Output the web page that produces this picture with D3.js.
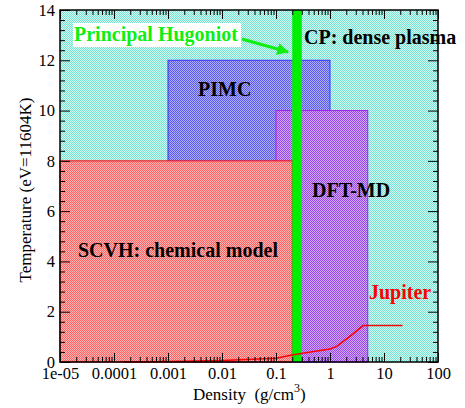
<!DOCTYPE html>
<html><head><meta charset="utf-8">
<script src="https://cdn.jsdelivr.net/npm/d3@7/dist/d3.min.js"></script>
<style>body{margin:0;background:#fff}svg{display:block}text{font-family:"Liberation Serif","Times New Roman",serif}</style>
</head><body>
<script>
// ---- data ----
const xTickValues = [1e-5, 1e-4, 1e-3, 1e-2, 1e-1, 1, 10, 100];
const xTickLabels = ["1e-05", "0.0001", "0.001", "0.01", "0.1", "1", "10", "100"];
const yTickValues = [0, 2, 4, 6, 8, 10, 12, 14];
const regionNames = ["CP: dense plasma", "PIMC", "DFT-MD", "SCVH: chemical model", "Principal Hugoniot"];
const regionX0 = [1e-5, 1e-3, 0.1, 1e-5, 0.2];
const regionX1 = [100, 1.0, 5.0, 0.2, 0.3];
const regionT1 = [14, 12, 10, 8, 14];
const jupiterRho = [1.5e-4, 0.001, 0.01, 0.1, 0.2, 0.5, 1.0, 1.33, 2.5, 4.1, 22];
const jupiterT = [0.0, 0.02, 0.06, 0.15, 0.28, 0.42, 0.52, 0.62, 1.07, 1.45, 1.45];

const FONT = "Liberation Serif";
const W = 465, H = 408;
const svg = d3.select("body").append("svg").attr("width", W).attr("height", H)
  .attr("font-family", FONT);
const x = d3.scaleLog().domain([1e-5, 100]).range([60, 438]);
const y = d3.scaleLinear().domain([0, 14]).range([362, 10]);

const defs = svg.append("defs");
const fills = [["cyan", "#78e2d2", "#d4fbf2"], ["blue", "#5a5aeb", "#aeaefd"],
               ["purple", "#964be8", "#d2a5f8"], ["red", "#ff6464", "#ffb4b4"]];
fills.forEach(([id, a, b]) => {
  const p = defs.append("pattern").attr("id", "pat-" + id).attr("patternUnits", "userSpaceOnUse")
    .attr("width", 2).attr("height", 2);
  p.append("rect").attr("width", 2).attr("height", 2).attr("fill", a);
  p.append("rect").attr("x", 1).attr("y", 0).attr("width", 1).attr("height", 1).attr("fill", b);
  p.append("rect").attr("x", 0).attr("y", 1).attr("width", 1).attr("height", 1).attr("fill", b);
});

const styles = [
  {fill: "url(#pat-cyan)", stroke: "none"},
  {fill: "url(#pat-blue)", stroke: "#3030ff"},
  {fill: "url(#pat-purple)", stroke: "#a020f0"},
  {fill: "url(#pat-red)", stroke: "#ff0000"},
  {fill: "#00ee00", stroke: "none"}
];
// draw order: CP, PIMC, DFT-MD, SCVH, Hugoniot
regionNames.forEach((n, i) => {
  svg.append("rect")
    .attr("x", x(regionX0[i])).attr("y", y(regionT1[i]))
    .attr("width", x(regionX1[i]) - x(regionX0[i]))
    .attr("height", y(0) - y(regionT1[i]))
    .attr("fill", styles[i].fill)
    .attr("stroke", styles[i].stroke).attr("stroke-width", 1);
});

// Jupiter
svg.append("path")
  .datum(jupiterRho.map((r, i) => [r, jupiterT[i]]))
  .attr("d", d3.line().x(d => x(d[0])).y(d => y(d[1])))
  .attr("fill", "none").attr("stroke", "#ff0000").attr("stroke-width", 1.6);

// axes
const minorX = [];
for (let e = -5; e < 2; e++) for (let k = 2; k <= 9; k++) minorX.push(k * Math.pow(10, e));
const minorY = d3.range(0, 14.01, 0.4).filter(v => Math.abs(v / 2 - Math.round(v / 2)) > 1e-6);

function styleAx(g) { g.attr("font-family", FONT); g.select(".domain").remove(); g.selectAll("line").attr("stroke", "#000").attr("stroke-width", 1); }
const fontSize = 16.5;
const lab = g => g.selectAll("text").attr("font-size", fontSize).attr("fill", "#000").attr("font-family", FONT);
svg.append("g").attr("transform", `translate(0,${y(0)})`)
  .call(d3.axisBottom(x).tickValues(xTickValues).tickSize(-9).tickPadding(5).tickFormat((d, i) => xTickLabels[i]))
  .call(styleAx).call(lab);
svg.append("g").attr("transform", `translate(0,${y(0)})`)
  .call(d3.axisBottom(x).tickValues(minorX).tickSize(-5).tickFormat("")).call(styleAx);
svg.append("g").attr("transform", `translate(0,${y(14)})`)
  .call(d3.axisTop(x).tickValues(xTickValues).tickSize(-9).tickFormat("")).call(styleAx);
svg.append("g").attr("transform", `translate(0,${y(14)})`)
  .call(d3.axisTop(x).tickValues(minorX).tickSize(-5).tickFormat("")).call(styleAx);
svg.append("g").attr("transform", `translate(${x(1e-5)},0)`)
  .call(d3.axisLeft(y).tickValues(yTickValues).tickSize(-10).tickPadding(5).tickFormat(d3.format("d")))
  .call(styleAx).call(lab);
svg.append("g").attr("transform", `translate(${x(1e-5)},0)`)
  .call(d3.axisLeft(y).tickValues(minorY).tickSize(-5).tickFormat("")).call(styleAx);
svg.append("g").attr("transform", `translate(${x(100)},0)`)
  .call(d3.axisRight(y).tickValues(yTickValues).tickSize(-10).tickFormat("")).call(styleAx);
svg.append("g").attr("transform", `translate(${x(100)},0)`)
  .call(d3.axisRight(y).tickValues(minorY).tickSize(-5).tickFormat("")).call(styleAx);

svg.append("rect").attr("x", x(1e-5)).attr("y", y(14)).attr("width", x(100) - x(1e-5))
  .attr("height", y(0) - y(14)).attr("fill", "none").attr("stroke", "#000").attr("stroke-width", 1.5);

// axis titles
svg.append("text").attr("transform", `translate(31,${(y(0) + y(14)) / 2 + 4}) rotate(-90)`)
  .attr("font-family", FONT).attr("text-anchor", "middle").attr("font-size", 17).text("Temperature (eV=11604K)");
const xl = svg.append("text").attr("x", 193).attr("y", 400).attr("font-size", 17).attr("font-family", FONT);
xl.append("tspan").text("Density\u00a0\u00a0(g/cm");
xl.append("tspan").attr("dy", -8).attr("font-size", 12).text("3");
xl.append("tspan").attr("dy", 8).text(")");

// labels
const bold = (t, px, py, col) => svg.append("text").attr("x", px).attr("y", py).attr("font-size", 20)
  .attr("font-family", FONT).attr("font-weight", "bold").attr("fill", col).text(t);
svg.append("rect").attr("x", 73).attr("y", 23).attr("width", 168).attr("height", 24).attr("fill", "#fff");
bold(regionNames[4], 74, 41, "#11ee11");
bold(regionNames[0], 304, 44, "#000");
bold(regionNames[1], 198, 96, "#000");
bold(regionNames[2], 312, 197, "#000");
bold(regionNames[3], 78, 257, "#000");
bold("Jupiter", 369, 299, "#ff0000");

// arrow
defs.append("marker").attr("id", "arr").attr("viewBox", "0 0 10 10").attr("refX", 9).attr("refY", 5)
  .attr("markerWidth", 4).attr("markerHeight", 4).attr("orient", "auto")
  .append("path").attr("d", "M0,0L10,5L0,10z").attr("fill", "#11ee11");
svg.append("line").attr("x1", 242).attr("y1", 39).attr("x2", 288).attr("y2", 52)
  .attr("stroke", "#11ee11").attr("stroke-width", 3).attr("marker-end", "url(#arr)");
</script>
</body></html>
